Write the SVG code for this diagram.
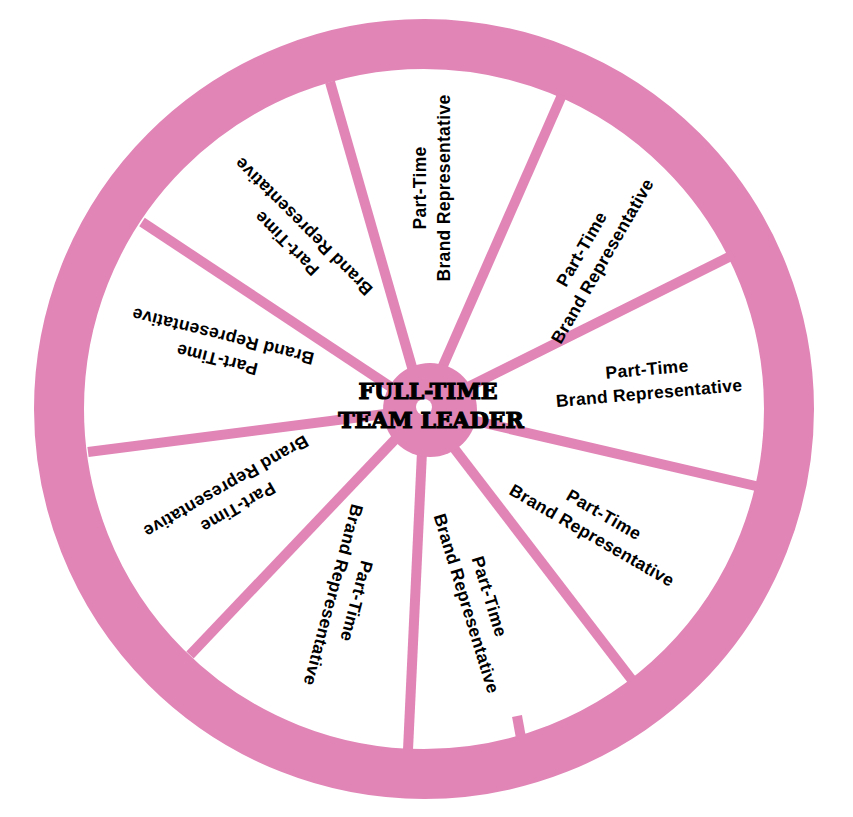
<svg xmlns="http://www.w3.org/2000/svg" width="853" height="817" viewBox="0 0 853 817">
<style>
.sp{stroke:#E085B6;stroke-width:10;fill:none}
.lb{font-family:"Liberation Sans",Arial,sans-serif;font-weight:bold;font-size:17.5px;letter-spacing:0.3px;fill:#000;text-anchor:middle}
.hd{font-family:"DejaVu Serif",serif;font-weight:900;font-size:22px;fill:#000;text-anchor:middle;stroke:#000;stroke-width:1.2}
</style>
<rect width="853" height="817" fill="#fff"/>
<g id="wheel">
<circle cx="424" cy="409" r="365" fill="#fff" stroke="#E085B6" stroke-width="50"/>
</g>
<g id="connectors">
<line class="sp" x1="424" y1="409" x2="330" y2="82"/>
<line class="sp" x1="424" y1="409" x2="562" y2="95"/>
<line class="sp" x1="424" y1="409" x2="733" y2="255"/>
<line class="sp" x1="424" y1="409" x2="760" y2="487"/>
<line class="sp" x1="424" y1="409" x2="632" y2="680"/>
<line class="sp" x1="424" y1="409" x2="408" y2="750"/>
<line class="sp" x1="424" y1="409" x2="190" y2="655"/>
<line class="sp" x1="424" y1="409" x2="88" y2="452"/>
<line class="sp" x1="424" y1="409" x2="142" y2="222"/>
<line class="sp" x1="517" y1="716" x2="521" y2="738"/>
</g>
<g id="hub">
<circle cx="430" cy="410" r="47" fill="#E085B6"/>
<circle cx="424" cy="407" r="8" fill="#fff"/>
<text class="hd" x="428" y="399">FULL-TIME</text>
<text class="hd" x="431" y="428">TEAM LEADER</text>
</g>
<g id="n1" transform="translate(432,188) rotate(-90)"><text class="lb" y="-6">Part-Time</text><text class="lb" y="18">Brand Representative</text></g>
<g id="n2" transform="translate(592,255) rotate(-60)"><text class="lb" y="-6">Part-Time</text><text class="lb" y="18">Brand Representative</text></g>
<g id="n3" transform="translate(648,381) rotate(-5)"><text class="lb" y="-6">Part-Time</text><text class="lb" y="18">Brand Representative</text></g>
<g id="n4" transform="translate(598,525) rotate(30)"><text class="lb" y="-6">Part-Time</text><text class="lb" y="18">Brand Representative</text></g>
<g id="n5" transform="translate(478,600) rotate(73)"><text class="lb" y="-6">Part-Time</text><text class="lb" y="18">Brand Representative</text></g>
<g id="n6" transform="translate(345,598) rotate(105)"><text class="lb" y="-6">Part-Time</text><text class="lb" y="18">Brand Representative</text></g>
<g id="n7" transform="translate(232,497) rotate(150)"><text class="lb" y="-6">Part-Time</text><text class="lb" y="18">Brand Representative</text></g>
<g id="n8" transform="translate(220,348) rotate(194)"><text class="lb" y="-6">Part-Time</text><text class="lb" y="18">Brand Representative</text></g>
<g id="n9" transform="translate(295,235) rotate(225)"><text class="lb" y="-6">Part-Time</text><text class="lb" y="18">Brand Representative</text></g>
</svg>
